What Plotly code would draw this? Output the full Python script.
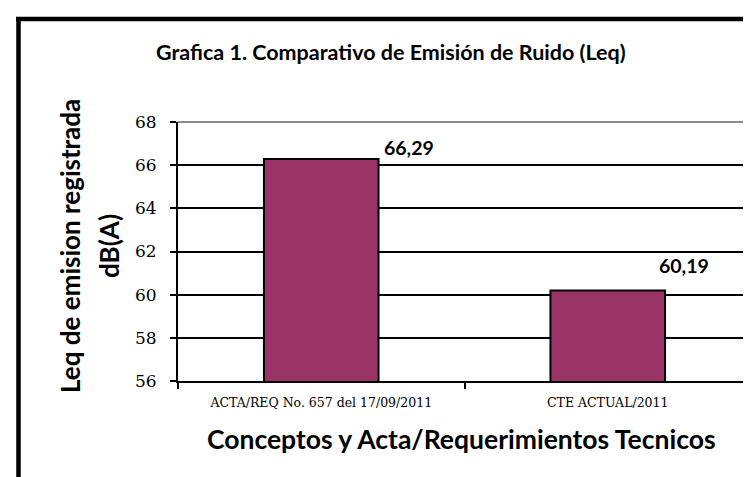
import plotly.graph_objects as go

categories = ["ACTA/REQ No. 657 del 17/09/2011", "CTE ACTUAL/2011"]
values = [66.29, 60.19]
value_labels = ["66,29", "60,19"]
y_ticks = [56, 58, 60, 62, 64, 66, 68]
title_text = "Grafica 1. Comparativo de Emisión de Ruido (Leq)"
x_title = "Conceptos y Acta/Requerimientos Tecnicos"
y_title_lines = ["Leq de emision registrada", "dB(A)"]

W, H = 751, 477
L, R, T, B = 170, 8, 114, 104
pw, ph = W - L - R, H - T - B

def px(x):
    return (x - L) / pw

def py(y):
    return (H - B - y) / ph

sans = "Lato"
serif = "DejaVu Serif, Liberation Serif, serif"

fig = go.Figure()
fig.add_trace(go.Bar(
    x=categories, y=values, width=0.4,
    marker=dict(color="#993366", line=dict(color="black", width=2)),
    hoverinfo="skip",
))

annotations = []
shifts = [(88, 11), (76, 25)]
for c, v, lab, (xs, ys) in zip(categories, values, value_labels, shifts):
    annotations.append(dict(x=c, y=v, xref="x", yref="y", text=lab, showarrow=False,
                            xanchor="center", yanchor="middle", xshift=xs, yshift=ys,
                            font=dict(family=sans, size=19.5, color="black", weight="bold")))

annotations.append(dict(x=px(383), y=py(44), xref="paper", yref="paper", text=title_text,
                        showarrow=False, xanchor="center", yanchor="middle",
                        font=dict(family=sans, size=21.5, color="black", weight="bold")))
annotations.append(dict(x=px(453), y=py(431), xref="paper", yref="paper", text=x_title,
                        showarrow=False, xanchor="center", yanchor="middle",
                        font=dict(family=sans, size=26.5, color="black", weight="bold")))
for xc, line in zip([62, 101], y_title_lines):
    annotations.append(dict(x=px(xc), y=py(238), xref="paper", yref="paper", text=line,
                            showarrow=False, xanchor="center", yanchor="middle", textangle=-90,
                            font=dict(family=sans, size=26, color="black", weight="bold")))

shapes = [
    # outer frame (top and left edges)
    dict(type="line", xref="paper", yref="paper", x0=px(8), x1=px(751), y0=py(11), y1=py(11),
         line=dict(color="black", width=4.5)),
    dict(type="line", xref="paper", yref="paper", x0=px(10.5), x1=px(10.5), y0=py(9), y1=py(477),
         line=dict(color="black", width=4.5)),
    # plot area top/right gray border
    dict(type="line", xref="paper", yref="paper", x0=0, x1=1, y0=1, y1=1,
         line=dict(color="#8c8c8c", width=2)),
    dict(type="line", xref="paper", yref="paper", x0=1, x1=1, y0=0, y1=1,
         line=dict(color="#8c8c8c", width=2)),
]

fig.update_layout(
    width=W, height=H,
    margin=dict(l=L, r=R, t=T, b=B, autoexpand=False),
    paper_bgcolor="white", plot_bgcolor="white",
    showlegend=False,
    annotations=annotations,
    shapes=shapes,
)
fig.update_xaxes(
    type="category", range=[-0.5, 1.5],
    showline=True, linecolor="black", linewidth=2,
    ticks="outside", tickson="boundaries", ticklen=6, tickwidth=2, tickcolor="black",
    tickfont=dict(family=serif, size=12.5, color="black"),
    ticklabelstandoff=9,
    showgrid=False, zeroline=False,
)
fig.update_yaxes(
    range=[56, 68], tickvals=y_ticks,
    showline=True, linecolor="black", linewidth=2,
    ticks="outside", ticklen=6, tickwidth=2, tickcolor="black",
    tickfont=dict(family=serif, size=17, color="black"),
    ticklabelstandoff=10,
    showgrid=True, gridcolor="black", gridwidth=1.6, zeroline=False,
)

fig.write_html("out.html")
